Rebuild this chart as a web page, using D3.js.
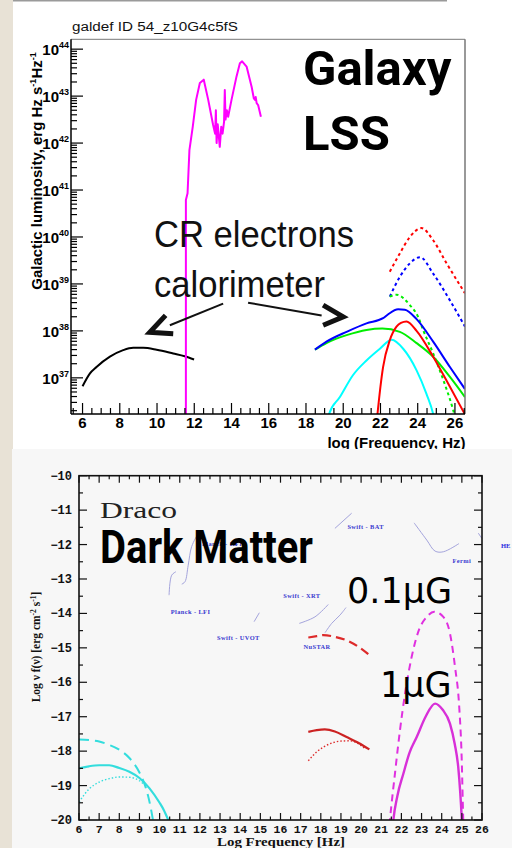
<!DOCTYPE html>
<html><head><meta charset="utf-8">
<script src="https://cdn.jsdelivr.net/npm/d3@7"></script>
<style>html,body{margin:0;padding:0;background:#fff;overflow:hidden}svg{display:block}</style>
</head><body>
<svg id="c" width="512" height="848"></svg>
<script>
// ================= DATA =================
// Top panel "Galaxy LSS": [log10 frequency (Hz), log10 luminosity]
const topTitle = "galdef ID 54_z10G4c5fS";
const topXTickLabels = [6,8,10,12,14,16,18,20,22,24,26];
const topYDecades = [37,38,39,40,41,42,43,44];
const topMagenta = [[11.55,35.5],[11.55,40.79],[11.64,40.93],[11.74,41.85],[11.92,42.35],[12.1,42.92],[12.3,43.28],[12.51,43.35],[12.75,42.92],[13.01,42.39],[13.12,42.2],[13.16,42.7],[13.2,42.0],[13.26,42.4],[13.37,41.92],[13.45,42.35],[13.52,42.2],[13.6,42.45],[13.64,43.13],[13.68,42.5],[13.75,42.7],[13.82,42.56],[14.0,42.92],[14.27,43.42],[14.45,43.7],[14.57,43.74],[14.81,43.63],[15.08,43.2],[15.2,42.95],[15.26,42.92],[15.3,42.98],[15.35,42.85],[15.43,42.81],[15.58,42.56]];
const topBlack = [[6.0,36.82],[6.39,37.09],[6.75,37.23],[7.47,37.45],[8.18,37.59],[8.72,37.64],[9.26,37.64],[9.98,37.6],[10.87,37.52],[11.49,37.46],[11.99,37.39]];
const topBlue = [[18.48,37.6],[19.1,37.77],[20.18,37.98],[21.25,38.16],[22.14,38.27],[22.4,38.35],[22.95,38.46],[23.31,38.45],[23.94,38.25],[24.83,37.77],[25.73,37.23],[26.54,36.76]];
const topGreen = [[18.48,37.6],[19.1,37.74],[19.6,37.83],[20.18,37.91],[21.25,38.02],[22.1,38.05],[23.04,37.98],[23.94,37.74],[24.83,37.45],[25.73,37.02],[26.54,36.59]];
const topRed = [[21.76,35.9],[21.84,36.23],[22.14,37.23],[22.5,37.8],[22.86,38.09],[23.1,38.17],[23.4,38.2],[23.94,38.0],[24.83,37.45],[25.73,36.81],[26.54,36.22]];
const topCyan = [[19.1,35.95],[19.24,36.23],[19.82,36.59],[20.53,37.06],[21.25,37.37],[21.97,37.62],[22.6,37.81],[23.22,37.62],[23.94,37.16],[24.47,36.66],[24.83,36.23],[24.95,36.0]];
const topRedDotted = [[22.5,39.26],[23.04,39.65],[23.58,40.0],[24.2,40.19],[24.83,39.93],[25.55,39.44],[26.54,38.8]];
const topBlueDotted = [[22.5,38.73],[23.04,39.15],[23.58,39.44],[24.13,39.57],[24.83,39.22],[25.73,38.65],[26.54,38.09]];
const topGreenDotted = [[22.5,38.73],[22.86,38.77],[23.58,38.55],[24.02,38.3],[24.29,38.02],[24.83,37.52],[25.37,36.96],[25.9,36.32],[26.05,36.1]];
// annotation arrows (data units): line [from, to], chevron [arm, tip, arm]
const arrowLeftLine = [[13.55,38.58],[10.69,38.12]];
const arrowLeftHead = [[10.46,38.33],[9.61,37.97],[10.87,37.94]];
const arrowRightLine = [[14.89,38.6],[18.84,38.33]];
const arrowRightHead = [[18.92,38.55],[20.0,38.3],[18.92,38.12]];

// Bottom panel "Draco": [log10 frequency (Hz), log10 nu f(nu)]
const botXTickLabels = d3.range(6, 27, 1);
const botYTickLabels = d3.range(-20, -9, 1);
const botCyanDashed = [[6,-17.66],[6.5,-17.68],[7,-17.72],[7.5,-17.82],[8,-17.96],[8.5,-18.2],[9,-18.62],[9.25,-18.95],[9.45,-19.35],[9.67,-20],[9.75,-20.3]];
const botCyanSolid = [[6,-18.5],[6.5,-18.44],[7,-18.41],[7.5,-18.41],[8,-18.49],[8.5,-18.6],[9,-18.78],[9.5,-19.08],[10,-19.5],[10.2,-19.7],[10.43,-20],[10.5,-20.1]];
const botCyanDotted = [[6,-19.48],[6.5,-19.1],[7,-18.9],[7.5,-18.8],[8,-18.75],[8.5,-18.76],[9,-18.86],[9.3,-19.0]];
const botRedSolid = [[17.38,-17.44],[17.8,-17.39],[18.2,-17.37],[18.7,-17.43],[19.28,-17.59],[19.9,-17.77],[20.41,-17.95]];
const botRedDotted = [[17.38,-18.28],[17.8,-18.02],[18.4,-17.8],[18.95,-17.71],[19.45,-17.7],[19.9,-17.8],[20.2,-17.93]];
const botRedDashed = [[17.38,-14.7],[17.8,-14.66],[18.13,-14.63],[18.7,-14.68],[19.28,-14.78],[19.9,-14.98],[20.41,-15.21]];
const botMagentaDashed = [[21.35,-20.5],[21.43,-20],[21.68,-18.65],[21.93,-17.39],[22.18,-16.33],[22.51,-15.26],[22.84,-14.53],[23.26,-14.1],[23.63,-13.95],[24.08,-14.1],[24.41,-14.58],[24.66,-15.55],[24.87,-16.72],[24.99,-18.17],[25.07,-20],[25.1,-20.5]];
const botMagentaSolid = [[21.55,-20.3],[21.6,-20],[21.8,-19.3],[22.1,-18.65],[22.4,-18.05],[22.76,-17.59],[23.2,-17.0],[23.67,-16.62],[24.05,-16.8],[24.41,-17.2],[24.65,-17.8],[24.82,-18.46],[24.92,-19.2],[24.99,-19.9],[25.02,-20.3]];
// instrument sensitivity curves
const sensPlanckA = [[10.47,-13.47],[10.6,-12.89],[10.81,-12.79]];
const sensPlanckB = [[11.1,-13.15],[11.26,-13.08],[11.42,-12.6],[11.59,-12.06],[11.92,-11.67]];
const sensUVOT = [[14.69,-14.24],[14.95,-13.98]];
const sensXRT = [[16.93,-14.29],[17.71,-14.1],[18.37,-13.74]];
const sensNuSTAR = [[18.21,-14.56],[18.54,-14.29],[18.95,-14.05],[19.25,-13.83]];
const sensBAT = [[18.7,-11.53],[19.53,-11.09]];
const sensFermi = [[22.63,-11.37],[23.26,-11.87],[23.67,-12.19],[24.08,-12.21],[24.86,-11.97]];
const sensHESS = [[25.82,-11.67],[25.99,-11.82]];
const sensLabels = [
  {t:"Planck - LFI", x:10.55, y:-14.03},
  {t:"Planck - HFI", x:12.1, y:-12.05},
  {t:"Swift - UVOT", x:12.85, y:-14.77},
  {t:"Swift - XRT", x:16.14, y:-13.55},
  {t:"NuSTAR", x:17.14, y:-15.03},
  {t:"Swift - BAT", x:19.32, y:-11.55},
  {t:"Fermi", x:24.53, y:-12.55}
];

// ================= DRAW =================
const svg = d3.select("#c");
const defs = svg.append("defs");

// page backgrounds
svg.append("rect").attr("x",0).attr("y",0).attr("width",512).attr("height",848).attr("fill","#ffffff");
svg.append("rect").attr("x",0).attr("y",0).attr("width",13).attr("height",848).attr("fill","#e8e2d6");
svg.append("rect").attr("x",13).attr("y",0).attr("width",434).attr("height",1.5).attr("fill","#9a9a9a");

// ---------- TOP PANEL ----------
const xT = d3.scaleLinear().domain([5.38, 26.54]).range([71, 465]);
const yT = d3.scaleLog().domain([Math.pow(10,36.23), Math.pow(10,44.21)]).range([414, 39.3]);
const yTl = v => yT(Math.pow(10, v));

defs.append("clipPath").attr("id","clipT").append("rect")
  .attr("x",xT.range()[0]).attr("y",yT.range()[1])
  .attr("width",xT.range()[1]-xT.range()[0]).attr("height",yT.range()[0]-yT.range()[1]);

const lineT = d3.line().x(d=>xT(d[0])).y(d=>yTl(d[1])).curve(d3.curveMonotoneX);
const lineTlin = d3.line().x(d=>xT(d[0])).y(d=>yTl(d[1]));
const gT = svg.append("g").attr("clip-path","url(#clipT)");

const topSeries = [
  {d:topRedDotted, c:"#ff0000", dash:"3,3"},
  {d:topBlueDotted, c:"#0000ff", dash:"3,3"},
  {d:topGreenDotted, c:"#00ee00", dash:"3,3"},
  {d:topCyan, c:"#00ffff"},
  {d:topGreen, c:"#00ee00"},
  {d:topRed, c:"#ff0000"},
  {d:topBlue, c:"#0000ff"},
  {d:topBlack, c:"#000000"}
];
gT.selectAll("path.s").data(topSeries).enter().append("path")
  .attr("d", s=>lineT(s.d)).attr("fill","none").attr("stroke", s=>s.c)
  .attr("stroke-width",2).attr("stroke-dasharray", s=>s.dash||null);
gT.append("path").attr("d", lineTlin(topMagenta)).attr("fill","none")
  .attr("stroke","#ff00ff").attr("stroke-width",2).attr("stroke-linejoin","round");

// frame
const fT = svg.append("g");
fT.append("line").attr("x1",xT.range()[0]).attr("x2",xT.range()[1]).attr("y1",yT.range()[1]).attr("y2",yT.range()[1]).attr("stroke","#777").attr("stroke-width",1);
fT.append("line").attr("x1",xT.range()[1]).attr("x2",xT.range()[1]).attr("y1",yT.range()[1]).attr("y2",yT.range()[0]).attr("stroke","#777").attr("stroke-width",1.5);
fT.append("line").attr("x1",xT.range()[0]).attr("x2",xT.range()[1]).attr("y1",yT.range()[0]).attr("y2",yT.range()[0]).attr("stroke","#000").attr("stroke-width",1.5);
fT.append("line").attr("x1",xT.range()[0]).attr("x2",xT.range()[0]).attr("y1",yT.range()[1]).attr("y2",yT.range()[0]).attr("stroke","#000").attr("stroke-width",1.5);

// x ticks
const xTicksT = d3.range(5.5, 26.51, 0.5);
fT.selectAll("line.xt").data(xTicksT).enter().append("line")
  .attr("x1",d=>xT(d)).attr("x2",d=>xT(d))
  .attr("y1",yT.range()[0]).attr("y2",d=> yT.range()[0] - (d%2===0 ? 11 : 6))
  .attr("stroke","#000").attr("stroke-width",1.2);
fT.selectAll("text.xl").data(topXTickLabels).enter().append("text")
  .attr("x",d=>xT(d)).attr("y",427.5).attr("text-anchor","middle")
  .attr("font-family","Liberation Sans, Arial, sans-serif").attr("font-weight","bold").attr("font-size",15)
  .text(d=>d);

// y ticks (log, with minor ticks)
const yTicksT = [];
for (let dec=36; dec<=44; dec++) for (let k=1; k<=9; k++) {
  const v = dec + Math.log10(k);
  if (v >= 36.23 && v <= 44.21) yTicksT.push({v, major:k===1});
}
fT.selectAll("line.yt").data(yTicksT).enter().append("line")
  .attr("x1",xT.range()[0]).attr("x2",d=>xT.range()[0] + (d.major?12:6))
  .attr("y1",d=>yTl(d.v)).attr("y2",d=>yTl(d.v))
  .attr("stroke","#000").attr("stroke-width",1.2);
const ylab = fT.selectAll("text.yl").data(topYDecades).enter().append("text")
  .attr("x",69).attr("y",d=>yTl(d)+6).attr("text-anchor","end")
  .attr("font-family","Liberation Sans, Arial, sans-serif").attr("font-weight","bold").attr("font-size",15);
ylab.append("tspan").text("10");
ylab.append("tspan").attr("dy",-7).attr("font-size",9).text(d=>d);

// title, axis labels
svg.append("text").attr("x",72).attr("y",31).attr("font-family","Liberation Sans, Arial, sans-serif")
  .attr("font-size",12.5).attr("fill","#111").attr("textLength",166).attr("lengthAdjust","spacingAndGlyphs").text(topTitle);
const yAxT = svg.append("text").attr("transform","translate(42,171) rotate(-90)").attr("text-anchor","middle")
  .attr("font-family","Liberation Sans, Arial, sans-serif").attr("font-weight","bold").attr("font-size",15);
yAxT.append("tspan").text("Galactic luminosity, erg Hz s");
yAxT.append("tspan").attr("dy",-6).attr("font-size",9).text("-1");
yAxT.append("tspan").attr("dy",6).text("Hz");
yAxT.append("tspan").attr("dy",-6).attr("font-size",9).text("-1");
svg.append("text").attr("x",465.5).attr("y",448).attr("text-anchor","end")
  .attr("font-family","Liberation Sans, Arial, sans-serif").attr("font-weight","bold").attr("font-size",15)
  .text("log (Frequency, Hz)");

// annotation text
svg.append("text").attr("x",303).attr("y",85).attr("font-family","Roboto, sans-serif").attr("font-weight",700)
  .attr("font-size",49).attr("fill","#000").text("Galaxy");
svg.append("text").attr("x",303).attr("y",150).attr("font-family","Roboto, sans-serif").attr("font-weight",700)
  .attr("font-size",49).attr("fill","#000").text("LSS");
svg.append("text").attr("x",154).attr("y",247).attr("font-family","Liberation Sans, Arial, sans-serif")
  .attr("font-size",37).attr("fill","#111").attr("textLength",200).attr("lengthAdjust","spacingAndGlyphs").text("CR electrons");
svg.append("text").attr("x",154).attr("y",297).attr("font-family","Liberation Sans, Arial, sans-serif")
  .attr("font-size",37).attr("fill","#111").attr("textLength",171).attr("lengthAdjust","spacingAndGlyphs").text("calorimeter");

const arrowLine = d3.line().x(d=>xT(d[0])).y(d=>yTl(d[1]));
[arrowLeftLine, arrowRightLine].forEach(a => svg.append("path").attr("d",arrowLine(a))
  .attr("fill","none").attr("stroke","#111").attr("stroke-width",2));
[arrowLeftHead, arrowRightHead].forEach(a => svg.append("path").attr("d",arrowLine(a))
  .attr("fill","none").attr("stroke","#111").attr("stroke-width",5).attr("stroke-linejoin","miter"));

// ---------- BOTTOM PANEL ----------
svg.append("rect").attr("x",12).attr("y",449).attr("width",500).attr("height",399).attr("fill","#f7f7f7");

const xB = d3.scaleLinear().domain([6, 26]).range([79, 482]);
const yB = d3.scaleLinear().domain([-20, -10]).range([820, 475.7]);
defs.append("clipPath").attr("id","clipB").append("rect")
  .attr("x",79).attr("y",475.7).attr("width",403).attr("height",344.3);
const lineB = d3.line().x(d=>xB(d[0])).y(d=>yB(d[1])).curve(d3.curveMonotoneX);
const lineBlin = d3.line().x(d=>xB(d[0])).y(d=>yB(d[1])).curve(d3.curveCatmullRom);

// instrument sensitivities
const gS = svg.append("g");
[sensPlanckA, sensPlanckB, sensUVOT, sensXRT, sensNuSTAR, sensBAT, sensFermi, sensHESS].forEach(s =>
  gS.append("path").attr("d", lineBlin(s)).attr("fill","none").attr("stroke","#a4a4dc").attr("stroke-width",1));
gS.selectAll("text.sl").data(sensLabels).enter().append("text")
  .attr("x",d=>xB(d.x)).attr("y",d=>yB(d.y))
  .attr("font-family","Liberation Serif, serif").attr("font-weight","bold").attr("font-size",6.4)
  .attr("letter-spacing",0.4).attr("fill","#3a3ad0").text(d=>d.t);
svg.append("text").attr("x",501).attr("y",548).attr("font-family","Liberation Serif, serif").attr("font-weight","bold")
  .attr("font-size",6.5).attr("fill","#2a2ae0").text("HE");

const gB = svg.append("g").attr("clip-path","url(#clipB)");
const botSeries = [
  {d:botCyanDotted, c:"#33dddd", w:1.4, dash:"1.5,2"},
  {d:botCyanDashed, c:"#33dddd", w:2, dash:"10,6"},
  {d:botCyanSolid, c:"#33dddd", w:2.2},
  {d:botRedDotted, c:"#dd2a2a", w:1.4, dash:"1.5,2"},
  {d:botRedSolid, c:"#cc2222", w:2.2},
  {d:botRedDashed, c:"#dd2a2a", w:2.2, dash:"9,5"},
  {d:botMagentaDashed, c:"#e030e0", w:2, dash:"7,5"},
  {d:botMagentaSolid, c:"#d830d8", w:2.4}
];
gB.selectAll("path.s").data(botSeries).enter().append("path")
  .attr("d", s=>lineB(s.d)).attr("fill","none").attr("stroke", s=>s.c)
  .attr("stroke-width", s=>s.w).attr("stroke-dasharray", s=>s.dash||null);

// frame and ticks
const fB = svg.append("g");
fB.append("rect").attr("x",79).attr("y",475.7).attr("width",403).attr("height",344.3)
  .attr("fill","none").attr("stroke","#111").attr("stroke-width",1.6);
const xTicksB = d3.range(6, 26.01, 0.5);
const yTicksB = d3.range(-20, -9.99, 0.5);
fB.selectAll("line.xb").data(xTicksB).enter().append("line")
  .attr("x1",d=>xB(d)).attr("x2",d=>xB(d)).attr("y1",820).attr("y2",d=>820-(Number.isInteger(d)?7:3.5))
  .attr("stroke","#111").attr("stroke-width",1.2);
fB.selectAll("line.xtp").data(xTicksB).enter().append("line")
  .attr("x1",d=>xB(d)).attr("x2",d=>xB(d)).attr("y1",475.7).attr("y2",d=>475.7+(Number.isInteger(d)?7:3.5))
  .attr("stroke","#111").attr("stroke-width",1.2);
fB.selectAll("line.yb").data(yTicksB).enter().append("line")
  .attr("x1",79).attr("x2",d=>79+(Number.isInteger(d)?8:4)).attr("y1",d=>yB(d)).attr("y2",d=>yB(d))
  .attr("stroke","#111").attr("stroke-width",1.2);
fB.selectAll("line.yr").data(yTicksB).enter().append("line")
  .attr("x1",482).attr("x2",d=>482-(Number.isInteger(d)?8:4)).attr("y1",d=>yB(d)).attr("y2",d=>yB(d))
  .attr("stroke","#111").attr("stroke-width",1.2);
fB.selectAll("text.xbl").data(botXTickLabels).enter().append("text")
  .attr("x",d=>xB(d)).attr("y",832.5).attr("text-anchor","middle")
  .attr("font-family","Liberation Mono, DejaVu Sans Mono, monospace").attr("font-weight","bold").attr("font-size",11.5)
  .attr("fill","#111").text(d=>d);
fB.selectAll("text.ybl").data(botYTickLabels).enter().append("text")
  .attr("x",72).attr("y",d=>yB(d)+4).attr("text-anchor","end")
  .attr("font-family","Liberation Mono, DejaVu Sans Mono, monospace").attr("font-weight","bold").attr("font-size",12)
  .attr("fill","#111").text(d=>"\u2212"+Math.abs(d));

const yAxB = svg.append("text").attr("transform","translate(40,647) rotate(-90)").attr("text-anchor","middle")
  .attr("font-family","Liberation Serif, serif").attr("font-weight","bold").attr("font-size",11.5).attr("fill","#111");
yAxB.append("tspan").text("Log \u03bd f(\u03bd) [erg cm");
yAxB.append("tspan").attr("dy",-4).attr("font-size",7.5).text("-2");
yAxB.append("tspan").attr("dy",4).text(" s");
yAxB.append("tspan").attr("dy",-4).attr("font-size",7.5).text("-1");
yAxB.append("tspan").attr("dy",4).text("]");
svg.append("text").attr("x",281).attr("y",846).attr("text-anchor","middle")
  .attr("font-family","Liberation Serif, serif").attr("font-weight","bold").attr("font-size",12.5)
  .attr("fill","#111").attr("textLength",128).attr("lengthAdjust","spacingAndGlyphs").text("Log Frequency [Hz]");

// annotation texts
svg.append("text").attr("x",100).attr("y",518).attr("font-family","Liberation Serif, serif")
  .attr("font-size",24).attr("fill","#222").attr("textLength",77).attr("lengthAdjust","spacingAndGlyphs").text("Draco");
svg.append("text").attr("x",100).attr("y",563).attr("font-family","Roboto, sans-serif").attr("font-weight",700)
  .attr("font-size",46).attr("fill","#000").attr("textLength",213).attr("lengthAdjust","spacingAndGlyphs").text("Dark Matter");
svg.append("text").attr("x",347).attr("y",603).attr("font-family","DejaVu Sans, sans-serif")
  .attr("font-size",35).attr("fill","#000").text("0.1\u03bcG");
svg.append("text").attr("x",380).attr("y",697).attr("font-family","DejaVu Sans, sans-serif")
  .attr("font-size",35).attr("fill","#000").text("1\u03bcG");
</script>
</body></html>
